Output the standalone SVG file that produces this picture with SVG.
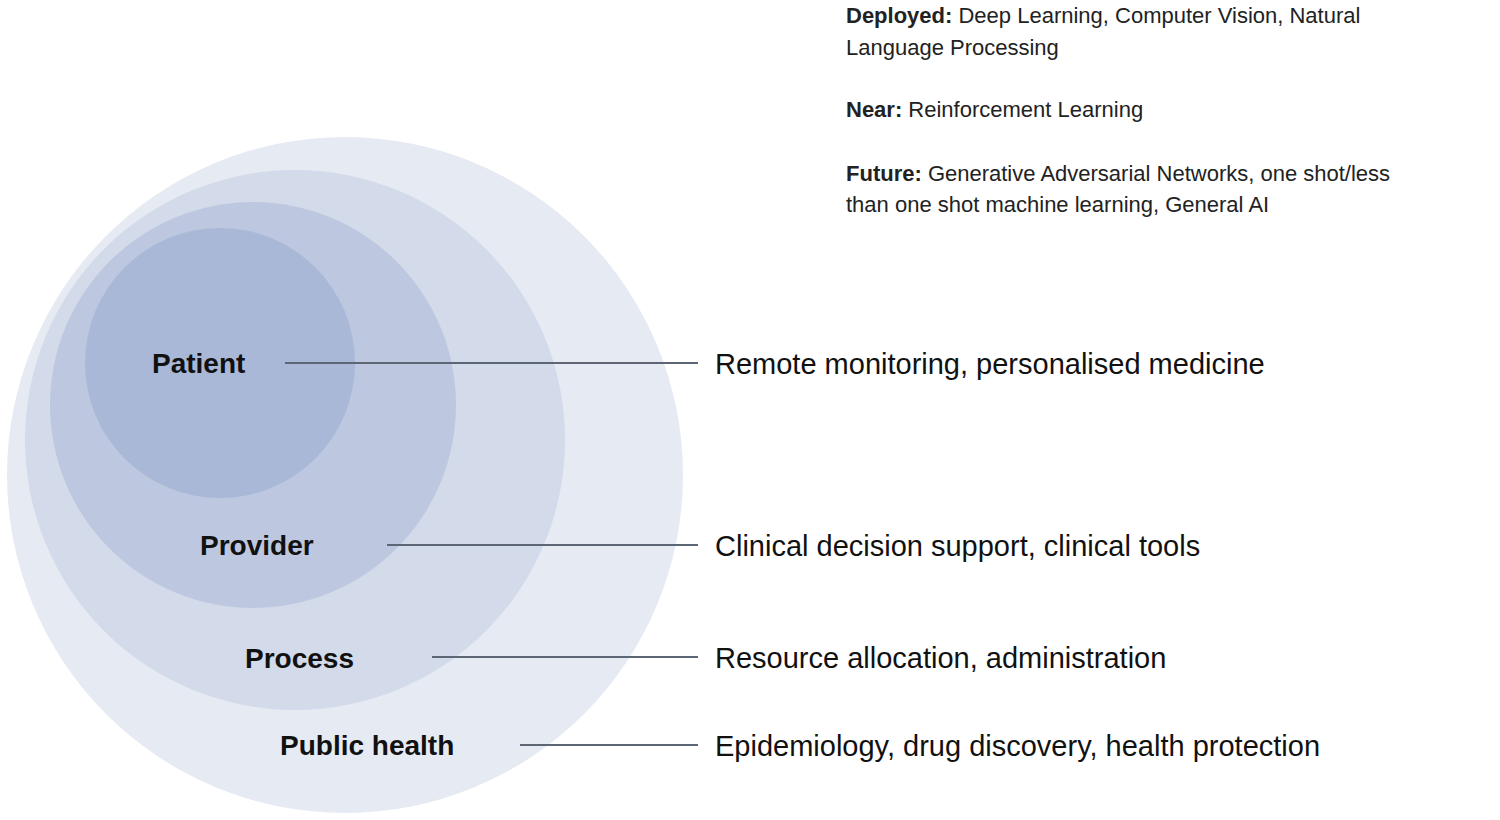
<svg xmlns="http://www.w3.org/2000/svg" width="1500" height="820" viewBox="0 0 1500 820">
<style>
.lbl{font-family:"Liberation Sans",Arial,sans-serif;font-weight:bold;font-size:28px;fill:#111}
.desc{font-family:"Liberation Sans",Arial,sans-serif;font-size:29px;fill:#111}
.top{font-family:"Liberation Sans",Arial,sans-serif;font-size:22px;fill:#222}
.top b,.b{font-weight:bold}
.con{stroke:#5d6675;stroke-width:2;fill:none}
</style>
<rect width="1500" height="820" fill="#fff"/>
<g id="publichealth-circle"><circle cx="345" cy="475" r="338" fill="#e6eaf3"/></g>
<g id="process-circle"><circle cx="295" cy="440" r="270" fill="#d3dae9"/></g>
<g id="provider-circle"><circle cx="253" cy="405" r="203" fill="#bdc8e0"/></g>
<g id="patient-circle"><circle cx="220" cy="363" r="135" fill="#a9b8d6"/></g>
<g id="labels">
<text class="lbl" x="152" y="373">Patient</text>
<text class="lbl" x="200" y="555">Provider</text>
<text class="lbl" x="245" y="668">Process</text>
<text class="lbl" x="280" y="755">Public health</text>
</g>
<g id="connectors">
<line class="con" x1="285" y1="363" x2="698" y2="363"/>
<line class="con" x1="387" y1="545" x2="698" y2="545"/>
<line class="con" x1="432" y1="657" x2="698" y2="657"/>
<line class="con" x1="520" y1="745" x2="698" y2="745"/>
</g>
<g id="descriptions">
<text class="desc" x="715" y="374">Remote monitoring, personalised medicine</text>
<text class="desc" x="715" y="556">Clinical decision support, clinical tools</text>
<text class="desc" x="715" y="668">Resource allocation, administration</text>
<text class="desc" x="715" y="756">Epidemiology, drug discovery, health protection</text>
</g>
<g id="legend">
<text class="top" x="846" y="23"><tspan class="b">Deployed:</tspan> Deep Learning, Computer Vision, Natural</text>
<text class="top" x="846" y="55">Language Processing</text>
<text class="top" x="846" y="117"><tspan class="b">Near:</tspan> Reinforcement Learning</text>
<text class="top" x="846" y="181"><tspan class="b">Future:</tspan> Generative Adversarial Networks, one shot/less</text>
<text class="top" x="846" y="212">than one shot machine learning, General AI</text>
</g>
</svg>
